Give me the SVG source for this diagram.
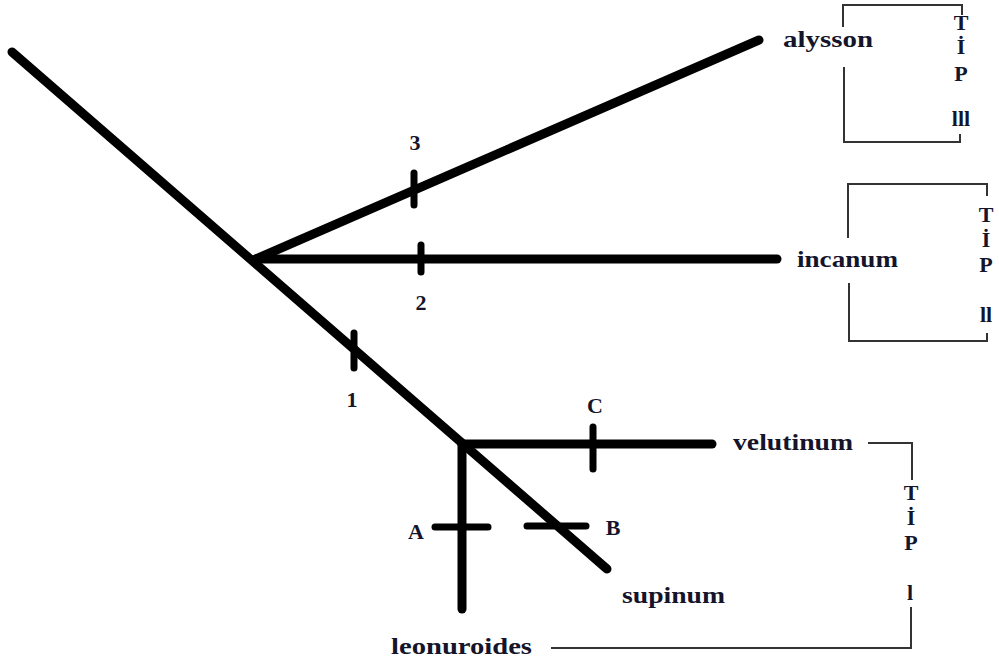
<svg xmlns="http://www.w3.org/2000/svg" width="999" height="668" viewBox="0 0 999 668">
<style>
.br{stroke:#000;stroke-width:9;stroke-linecap:round;fill:none}
.tk{stroke:#000;stroke-width:7;stroke-linecap:round;fill:none}
.bk{stroke:#333;stroke-width:2;fill:none}
text{font-family:"Liberation Serif","Times New Roman",serif;font-weight:bold;font-size:22px;fill:#14142a}
.c{text-anchor:middle}
.n{font-size:24px}
</style>
<rect width="999" height="668" fill="#fff"/>
<g id="connectors">
<line class="br" x1="12" y1="52" x2="607" y2="569"/>
<line class="br" x1="256" y1="259" x2="759" y2="40"/>
<line class="br" x1="256" y1="259" x2="777" y2="259"/>
<line class="br" x1="462" y1="444" x2="712" y2="444"/>
<line class="br" x1="462" y1="444" x2="462" y2="609"/>
<line class="tk" x1="414" y1="173" x2="414" y2="205"/>
<line class="tk" x1="421" y1="245" x2="421" y2="272"/>
<line class="tk" x1="354" y1="333" x2="354" y2="368"/>
<line class="tk" x1="593" y1="427" x2="593" y2="469"/>
<line class="tk" x1="435" y1="527" x2="488" y2="527"/>
<line class="tk" x1="527" y1="526" x2="586" y2="526"/>
</g>
<g id="labels">
<text class="c" x="415" y="150">3</text>
<text class="c" x="421" y="310">2</text>
<text class="c" x="352" y="407">1</text>
<text class="c" x="595" y="413">C</text>
<text class="c" x="416" y="539">A</text>
<text class="c" x="613" y="535">B</text>
</g>
<g id="alysson">
<text class="n" x="783" y="47" textLength="90" lengthAdjust="spacingAndGlyphs">alysson</text>
<polyline class="bk" points="843,27 843,5 962,5 962,15"/>
<polyline class="bk" points="844,67 844,142 960,142 960,134"/>
<text class="c" x="961" y="30">T</text>
<text class="c" x="961" y="54">İ</text>
<text class="c" x="961" y="81">P</text>
<text class="c" x="961" y="126">lll</text>
</g>
<g id="incanum">
<text class="n" x="797" y="267" textLength="101" lengthAdjust="spacingAndGlyphs">incanum</text>
<polyline class="bk" points="848,238 848,184 987,184 987,196"/>
<polyline class="bk" points="849,283 849,341 987,341 987,333"/>
<text class="c" x="986" y="222">T</text>
<text class="c" x="986" y="247">İ</text>
<text class="c" x="986" y="272">P</text>
<text class="c" x="986" y="322">ll</text>
</g>
<g id="velutinum">
<text class="n" x="733" y="450" textLength="120" lengthAdjust="spacingAndGlyphs">velutinum</text>
<polyline class="bk" points="868,443 912,443 912,480"/>
<text class="c" x="911" y="500">T</text>
<text class="c" x="911" y="525">İ</text>
<text class="c" x="911" y="550">P</text>
<text class="c" x="910" y="600">l</text>
</g>
<g id="supinum">
<text class="n" x="622" y="603" textLength="103" lengthAdjust="spacingAndGlyphs">supinum</text>
</g>
<g id="leonuroides">
<text class="n" x="391" y="654" textLength="141" lengthAdjust="spacingAndGlyphs">leonuroides</text>
<polyline class="bk" points="911,607 911,648 551,648"/>
</g>
</svg>
